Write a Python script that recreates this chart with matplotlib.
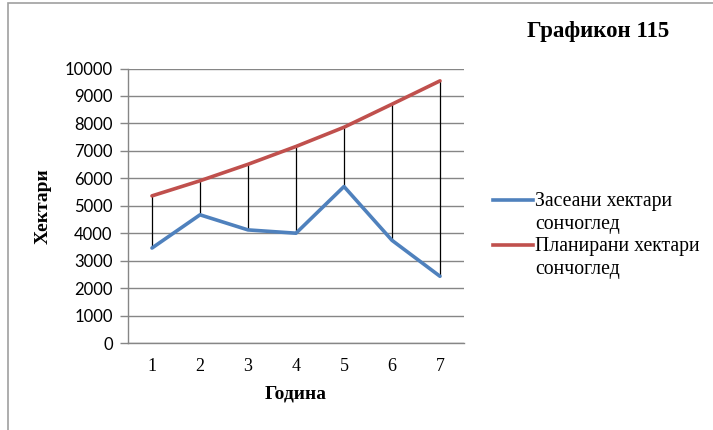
import matplotlib
matplotlib.use('Agg')
import matplotlib.pyplot as plt
from matplotlib.lines import Line2D
from matplotlib.patches import Rectangle

# ---------- DATA ----------
years = [1, 2, 3, 4, 5, 6, 7]
sown = [3460, 4670, 4120, 4000, 5700, 3740, 2430]
planned = [5360, 5910, 6510, 7160, 7860, 8700, 9550]
legend_labels = ["Засеани хектари\nсончоглед", "Планирани хектари\nсончоглед"]
title = "Графикон 115"
xlabel = "Година"
ylabel = "Хектари"
yticks = list(range(0, 10001, 1000))
# --------------------------

BLUE = '#4F81BD'
RED = '#C0504D'
GRID = '#868686'
SERIF = 'Liberation Serif'
SANS = 'Lato'

W, H = 713, 430
fig = plt.figure(figsize=(W / 100, H / 100), dpi=100)
ax = fig.add_axes([128 / W, 1 - 343 / H, (464 - 128) / W, (343 - 68.5) / H])

# chart border (only top and left edges visible in the reference)
fig.patches.append(Rectangle((8 / W, -0.1), 1.2, 1 - 3 / H + 0.1, transform=fig.transFigure,
                             fill=False, edgecolor='#A0A0A0', linewidth=1.2))

# high-low lines
ax.vlines(years, sown, planned, colors='black', linewidth=0.9, zorder=2)
ax.plot(years, sown, color=BLUE, linewidth=2.6, solid_capstyle='round', zorder=3)
ax.plot(years, planned, color=RED, linewidth=2.6, solid_capstyle='round', zorder=3)

ax.set_xlim(0.5, 7.5)
ax.set_ylim(0, 10000)
ax.set_yticks(yticks)
ax.set_xticks(years)
ax.grid(axis='y', color=GRID, linewidth=1.0)
ax.set_axisbelow(True)
for s in ['top', 'right']:
    ax.spines[s].set_visible(False)
for s in ['left', 'bottom']:
    ax.spines[s].set_color(GRID)
    ax.spines[s].set_linewidth(1.0)
ax.tick_params(axis='y', length=6, color=GRID, width=1.0, pad=5)
ax.tick_params(axis='x', length=0, pad=11)
for lbl in ax.get_yticklabels():
    lbl.set_fontfamily(SANS)
    lbl.set_fontsize(12)
for lbl in ax.get_xticklabels():
    lbl.set_fontfamily(SERIF)
    lbl.set_fontsize(13)

ax.set_xlabel(xlabel, fontfamily=SERIF, fontweight='bold', fontsize=14, labelpad=7)
ax.set_ylabel(ylabel, fontfamily=SERIF, fontweight='bold', fontsize=14, labelpad=9)

fig.text(598 / W, 1 - 32 / H, title, ha='center', va='center',
         fontfamily=SERIF, fontweight='bold', fontsize=16.5)

# legend drawn by hand so the line sits on the first text row
for i, (lab, col) in enumerate(zip(legend_labels, [BLUE, RED])):
    y = 1 - (200 + 45 * i) / H
    fig.add_artist(Line2D([493 / W, 533 / W], [y, y], color=col, linewidth=2.6,
                          transform=fig.transFigure))
    fig.text(535 / W, y + 8 / H, lab, ha='left', va='top', fontfamily=SERIF,
             fontsize=14.2, linespacing=1.3)

fig.savefig('out.png', dpi=100)
